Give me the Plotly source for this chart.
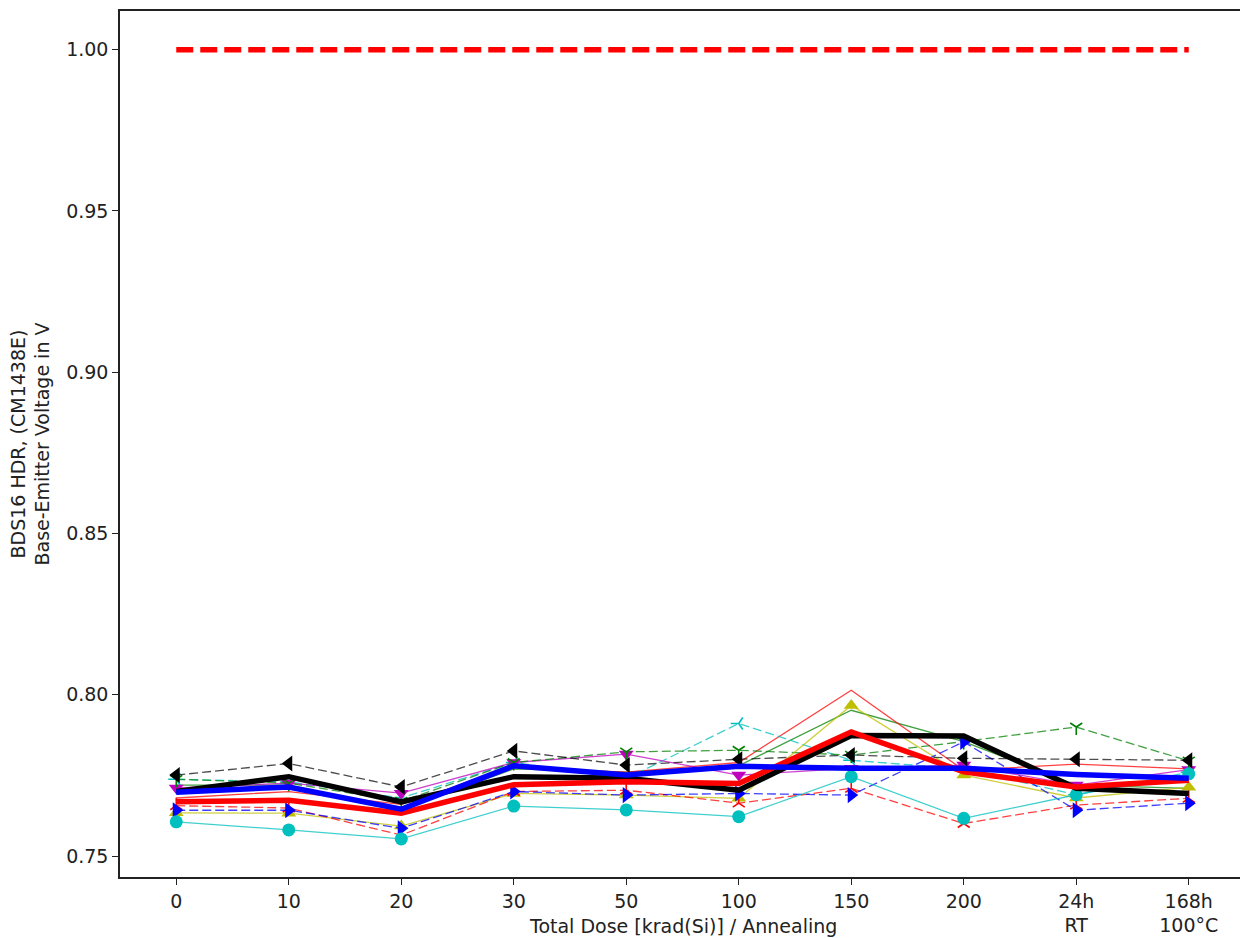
import plotly.graph_objects as go

categories = ["0", "10", "20", "30", "50", "100", "150", "200", "24h<br>RT", "168h<br>100°C"]
xpos = list(range(len(categories)))

limit = [1.00] * 10

k_dash_ltri = [0.7751, 0.7787, 0.7714, 0.7826, 0.7782, 0.7800, 0.7813, 0.7803, 0.7800, 0.7797]
c_solid_circ = [0.7606, 0.7581, 0.7553, 0.7655, 0.7643, 0.7622, 0.7746, 0.7617, 0.7690, 0.7755]
b_dash_rtri = [0.7642, 0.7642, 0.7586, 0.7700, 0.7689, 0.7694, 0.7689, 0.7854, 0.7642, 0.7664]
r_dash_tri = [0.7656, 0.7649, 0.7565, 0.7700, 0.7704, 0.7664, 0.7710, 0.7601, 0.7658, 0.7679]
y_solid_utri = [0.7634, 0.7633, 0.7593, 0.7694, 0.7689, 0.7679, 0.7967, 0.7751, 0.7680, 0.7713]
g_dash_tri = [0.7738, 0.7726, 0.7670, 0.7790, 0.7823, 0.7828, 0.7813, 0.7855, 0.7900, 0.7795]
m_solid_dtri = [0.7711, 0.7726, 0.7695, 0.7790, 0.7816, 0.7751, 0.7772, 0.7782, 0.7720, 0.7768]
g_solid = [0.7720, 0.7720, 0.7643, 0.7770, 0.7760, 0.7780, 0.7952, 0.7855, 0.7720, 0.7710]
r_solid = [0.7680, 0.7700, 0.7660, 0.7775, 0.7760, 0.7790, 0.8014, 0.7766, 0.7785, 0.7770]
c_dash_tri = [0.7738, 0.7730, 0.7680, 0.7790, 0.7740, 0.7911, 0.7797, 0.7770, 0.7690, 0.7760]
k_thick = [0.7700, 0.7746, 0.7668, 0.7746, 0.7741, 0.7704, 0.7874, 0.7872, 0.7710, 0.7694]
r_thick = [0.7668, 0.7673, 0.7633, 0.7721, 0.7730, 0.7725, 0.7885, 0.7761, 0.7714, 0.7735]
b_thick = [0.7698, 0.7714, 0.7645, 0.7780, 0.7751, 0.7778, 0.7772, 0.7772, 0.7753, 0.7741]

fig = go.Figure()

def thin(y, color, rgba, dash, symbol=None, msize=12, line_marker=False):
    mode = "lines+markers" if symbol else "lines"
    marker = None
    if symbol:
        if line_marker:
            marker = dict(symbol=symbol, size=msize, color=color,
                          line=dict(color=color, width=1.6))
        else:
            marker = dict(symbol=symbol, size=msize, color=color, line=dict(width=0))
    fig.add_trace(go.Scatter(x=xpos, y=y, mode=mode,
                             line=dict(color=rgba, width=1.3, dash=dash),
                             marker=marker, hoverinfo="skip"))

thin(g_solid, "#008000", "rgba(0,128,0,0.75)", "solid")
thin(r_solid, "#ff0000", "rgba(255,0,0,0.75)", "solid")
thin(c_dash_tri, "#00bfbf", "rgba(0,191,191,0.75)", "9px,4px", "y-left", 10, True)
thin(m_solid_dtri, "#bf00bf", "rgba(191,0,191,0.75)", "solid", "triangle-down", 13)
thin(g_dash_tri, "#008000", "rgba(0,128,0,0.75)", "9px,4px", "y-down", 10, True)
thin(y_solid_utri, "#bfbf00", "rgba(191,191,0,0.75)", "solid", "triangle-up", 13)
thin(r_dash_tri, "#ff0000", "rgba(255,0,0,0.75)", "9px,4px", "y-up", 10, True)
thin(b_dash_rtri, "#0000ff", "rgba(0,0,255,0.75)", "9px,4px", "triangle-right", 14)
thin(c_solid_circ, "#00bfbf", "rgba(0,191,191,0.75)", "solid", "circle", 13)
thin(k_dash_ltri, "#000000", "rgba(0,0,0,0.7)", "9px,4px", "triangle-left", 14)

fig.add_trace(go.Scatter(x=xpos, y=k_thick, mode="lines", line=dict(color="black", width=5.5), hoverinfo="skip"))
fig.add_trace(go.Scatter(x=xpos, y=r_thick, mode="lines", line=dict(color="#ff0000", width=5.5), hoverinfo="skip"))
fig.add_trace(go.Scatter(x=xpos, y=b_thick, mode="lines", line=dict(color="#0000ff", width=5.5), hoverinfo="skip"))
fig.add_trace(go.Scatter(x=xpos, y=limit, mode="lines", line=dict(color="#ff0000", width=5.5, dash="17px,7px"), hoverinfo="skip"))

font = dict(family="DejaVu Sans", size=19, color="#222222")

fig.update_layout(
    width=1240, height=930,
    margin=dict(l=112, r=2, t=1, b=61),
    paper_bgcolor="white", plot_bgcolor="white",
    showlegend=False,
    font=font,
    xaxis=dict(range=[-0.5, 9.5], tickmode="array", tickvals=xpos, ticktext=categories,
               showgrid=False, zeroline=False, showline=True, mirror=True,
               linecolor="#222222", linewidth=1.5, ticks="outside", ticklen=6,
               tickcolor="#222222", tickfont=font),
    yaxis=dict(range=[0.7435, 1.0120], tickmode="array",
               tickvals=[0.75, 0.80, 0.85, 0.90, 0.95, 1.00],
               ticktext=["0.75", "0.80", "0.85", "0.90", "0.95", "1.00"],
               showgrid=False, zeroline=False, showline=True, mirror=True,
               linecolor="#222222", linewidth=1.5, ticks="outside", ticklen=6,
               tickcolor="#222222", tickfont=font),
    annotations=[
        dict(text="Total Dose [krad(Si)] / Annealing", xref="paper", yref="paper",
             x=0.5, y=-0.0415, xanchor="center", yanchor="top", showarrow=False, font=font),
        dict(text="BDS16 HDR, (CM1438E)<br>Base-Emitter Voltage in V", xref="paper", yref="paper",
             x=-0.0804, y=0.5, xanchor="center", yanchor="middle", textangle=-90,
             showarrow=False, font=font),
    ],
)

fig.write_html("out.html")
